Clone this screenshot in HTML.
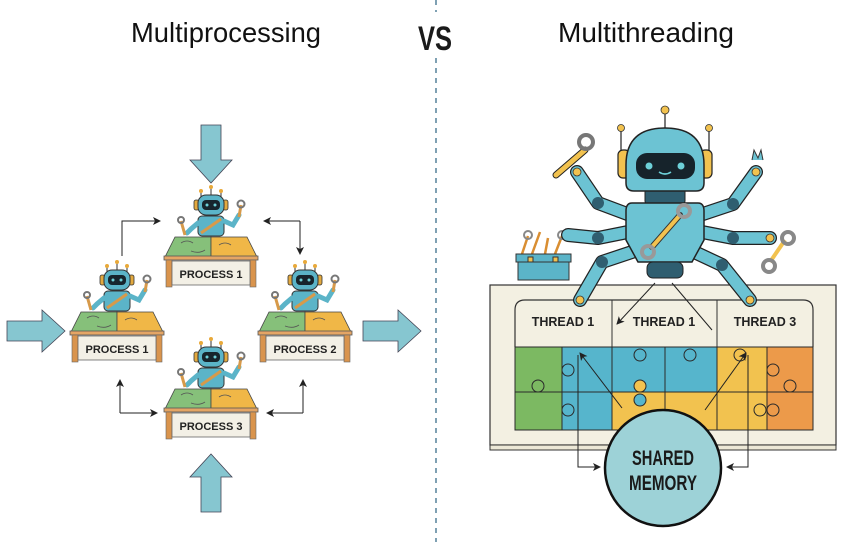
<!DOCTYPE html>
<html><head><meta charset="utf-8"><style>
html,body{margin:0;padding:0;background:#fff;}
svg{display:block;}
text{font-family:"Liberation Sans",sans-serif;}
</style></head><body>
<svg width="857" height="542" viewBox="0 0 857 542" xmlns="http://www.w3.org/2000/svg">
<defs>
<marker id="ah" markerWidth="8" markerHeight="8" refX="7" refY="4" orient="auto" markerUnits="userSpaceOnUse">
<path d="M0,0 L8,4 L0,8 L2,4 Z" fill="#222"/></marker>
<g id="desk">
  <!-- antennas -->
  <g stroke="#333" stroke-width="1">
    <line x1="-10" y1="-36" x2="-10" y2="-46"/><line x1="0" y1="-42" x2="0" y2="-50"/><line x1="10" y1="-36" x2="10" y2="-46"/>
  </g>
  <circle cx="-10" cy="-46" r="2" fill="#e8a93a"/><circle cx="0" cy="-50" r="2" fill="#e8a93a"/><circle cx="10" cy="-46" r="2" fill="#e8a93a"/>
  <rect x="-17" y="-37" width="5" height="10" rx="2" fill="#e3a93f" stroke="#333" stroke-width="0.8"/>
  <rect x="12" y="-37" width="5" height="10" rx="2" fill="#e3a93f" stroke="#333" stroke-width="0.8"/>
  <rect x="-13" y="-42" width="26" height="20" rx="8" fill="#5bb4c8" stroke="#333" stroke-width="1"/>
  <rect x="-9" y="-37" width="18" height="10" rx="4" fill="#17252d"/>
  <circle cx="-4" cy="-32" r="1.5" fill="#6dd0d8"/><circle cx="4" cy="-32" r="1.5" fill="#6dd0d8"/>
  <!-- body -->
  <rect x="-13" y="-21" width="26" height="20" rx="4" fill="#5bb4c8" stroke="#333" stroke-width="1"/>
  <line x1="-10" y1="-4" x2="10" y2="-18" stroke="#d79a4a" stroke-width="3"/>
  <!-- arms -->
  <path d="M13,-16 L22,-12 L28,-22" fill="none" stroke="#5bb4c8" stroke-width="5" stroke-linecap="round"/>
  <path d="M28,-20 L30,-32" stroke="#d79a4a" stroke-width="3"/>
  <circle cx="30" cy="-33" r="3.5" fill="none" stroke="#777" stroke-width="2"/>
  <path d="M-13,-14 L-20,-8 L-24,-4" fill="none" stroke="#5bb4c8" stroke-width="5" stroke-linecap="round"/>
  <path d="M-26,-2 L-30,-16" stroke="#d79a4a" stroke-width="3"/>
  <circle cx="-30" cy="-17" r="3" fill="none" stroke="#777" stroke-width="2"/>
  <!-- table top -->
  <polygon points="-36,0 0,0 0,20 -46,20" fill="#86c07a" stroke="#444" stroke-width="0.8"/>
  <polygon points="0,0 36,0 46,20 0,20" fill="#f0b747" stroke="#444" stroke-width="0.8"/>
  <path d="M-30,6 q6,-4 12,0 M8,8 q6,-4 12,0 M-20,14 q8,3 14,-1" fill="none" stroke="#555" stroke-width="0.8"/>
  <rect x="-47" y="19" width="94" height="4" fill="#e4a565" stroke="#555" stroke-width="0.8"/>
  <rect x="-45" y="23" width="6" height="27" fill="#d9944d" stroke="#666" stroke-width="0.6"/>
  <rect x="39" y="23" width="6" height="27" fill="#d9944d" stroke="#666" stroke-width="0.6"/>
  <rect x="-39" y="24" width="78" height="24" fill="#f3f0e6" stroke="#666" stroke-width="0.8"/>
</g>
<g id="bigarrow">
  <polygon points="-10,0 10,0 10,35 21,35 0,58 -21,35 -10,35" fill="#86c6d0" stroke="#445" stroke-width="0.8"/>
</g>
</defs>

<!-- titles -->
<text x="226" y="42" font-size="28" text-anchor="middle" textLength="190" lengthAdjust="spacingAndGlyphs" fill="#111">Multiprocessing</text>
<text x="646" y="42" font-size="28" text-anchor="middle" textLength="176" lengthAdjust="spacingAndGlyphs" fill="#111">Multithreading</text>
<text x="435" y="50" font-size="34" font-weight="bold" text-anchor="middle" textLength="34" lengthAdjust="spacingAndGlyphs" fill="#1a1a1a">VS</text>
<line x1="436" y1="0" x2="436" y2="12" stroke="#3a6e8a" stroke-width="1.3" stroke-dasharray="5,5"/>
<line x1="436" y1="58" x2="436" y2="542" stroke="#3a6e8a" stroke-width="1.3" stroke-dasharray="5,5"/>

<!-- big arrows left -->
<use href="#bigarrow" transform="translate(211,125)"/>
<use href="#bigarrow" transform="translate(211,512) rotate(180)"/>
<use href="#bigarrow" transform="translate(7,331) rotate(-90)"/>
<use href="#bigarrow" transform="translate(363,331) rotate(-90)"/>

<!-- desks -->
<use href="#desk" transform="translate(211,237)"/>
<use href="#desk" transform="translate(117,312)"/>
<use href="#desk" transform="translate(305,312)"/>
<use href="#desk" transform="translate(211,389)"/>
<g font-size="11" font-weight="bold" fill="#222" text-anchor="middle">
<text x="211" y="278">PROCESS 1</text>
<text x="117" y="353">PROCESS 1</text>
<text x="305" y="353">PROCESS 2</text>
<text x="211" y="430">PROCESS 3</text>
</g>

<!-- small connectors -->
<g fill="none" stroke="#222" stroke-width="1">
<path d="M122,256 V221 H160" marker-end="url(#ah)"/>
<path d="M300,221 H264" marker-end="url(#ah)"/>
<path d="M300,221 V254" marker-end="url(#ah)"/>
<path d="M120,413 V380" marker-end="url(#ah)"/>
<path d="M120,413 H157" marker-end="url(#ah)"/>
<path d="M303,413 V380" marker-end="url(#ah)"/>
<path d="M303,413 H267" marker-end="url(#ah)"/>
</g>

<!-- RIGHT: board -->
<rect x="490" y="285" width="346" height="160" fill="#f3f0e2" stroke="#333" stroke-width="1.2"/>
<rect x="490" y="445" width="346" height="5" fill="#ece8d6" stroke="#333" stroke-width="1"/>
<path d="M515,347 V310 q0,-10 10,-10 H803 q10,0 10,10 V347" fill="#f3f0e2" stroke="#333" stroke-width="1.2"/>
<line x1="612" y1="300" x2="612" y2="347" stroke="#333" stroke-width="1"/>
<line x1="717" y1="300" x2="717" y2="347" stroke="#333" stroke-width="1"/>
<!-- puzzle -->
<rect x="515" y="347" width="47" height="83" fill="#7cb962"/>
<rect x="562" y="347" width="155" height="45" fill="#56b5cc"/>
<rect x="562" y="392" width="50" height="38" fill="#56b5cc"/>
<rect x="612" y="392" width="155" height="38" fill="#f2c24f"/>
<rect x="717" y="347" width="50" height="45" fill="#f2c24f"/>
<rect x="767" y="347" width="46" height="83" fill="#ec9a4a"/>
<g fill="none" stroke="#2a2a2a" stroke-width="1">
<rect x="515" y="347" width="298" height="83"/>
<line x1="515" y1="392" x2="813" y2="392"/>
<line x1="562" y1="347" x2="562" y2="430"/>
<line x1="612" y1="347" x2="612" y2="430"/>
<line x1="665" y1="347" x2="665" y2="430"/>
<line x1="717" y1="347" x2="717" y2="430"/>
<line x1="767" y1="347" x2="767" y2="430"/>
</g>
<g fill="#56b5cc" stroke="#2a2a2a" stroke-width="1">
<circle cx="568" cy="370" r="6"/><circle cx="568" cy="410" r="6"/><circle cx="640" cy="355" r="6"/><circle cx="690" cy="355" r="6"/><circle cx="640" cy="400" r="6"/>
</g>
<g fill="#7cb962" stroke="#2a2a2a" stroke-width="1"><circle cx="538" cy="386" r="6"/></g>
<g fill="#f2c24f" stroke="#2a2a2a" stroke-width="1"><circle cx="640" cy="386" r="6"/><circle cx="740" cy="355" r="6"/><circle cx="760" cy="410" r="6"/></g>
<g fill="#ec9a4a" stroke="#2a2a2a" stroke-width="1"><circle cx="773" cy="370" r="6"/><circle cx="790" cy="386" r="6"/><circle cx="773" cy="410" r="6"/></g>
<g font-size="12.5" font-weight="bold" fill="#222" text-anchor="middle">
<text x="563" y="326">THREAD 1</text>
<text x="664" y="326">THREAD 1</text>
<text x="765" y="326">THREAD 3</text>
</g>

<!-- connectors right -->
<g fill="none" stroke="#222" stroke-width="1">
<path d="M655,283 L617,324" marker-end="url(#ah)"/>
<path d="M672,283 L712,330"/>
<path d="M622,408 L580,353" marker-end="url(#ah)"/>
<path d="M705,410 L746,353" marker-end="url(#ah)"/>
<path d="M578,355 V467 H600" marker-end="url(#ah)"/>
<path d="M748,355 V467 H727" marker-end="url(#ah)"/>
</g>

<!-- shared memory -->
<circle cx="663" cy="468" r="58" fill="#9dd2d7" stroke="#111" stroke-width="2.5"/>
<g font-size="21" font-weight="bold" fill="#1a1a1a" text-anchor="middle">
<text x="663" y="465" textLength="62" lengthAdjust="spacingAndGlyphs">SHARED</text>
<text x="663" y="490" textLength="68" lengthAdjust="spacingAndGlyphs">MEMORY</text>
</g>

<!-- toolbox -->
<g stroke="#333" stroke-width="1">
<path d="M522,254 L528,236 M532,254 L540,232 M545,254 L548,238 M555,254 L562,236" stroke="#d98e32" stroke-width="2.5"/>
<circle cx="528" cy="235" r="4" fill="none" stroke="#888" stroke-width="2"/>
<circle cx="562" cy="235" r="4" fill="none" stroke="#888" stroke-width="2"/>
<rect x="516" y="254" width="55" height="8" fill="#5bb4c8"/>
<rect x="518" y="262" width="51" height="18" fill="#5bb4c8"/>
<rect x="528" y="257" width="5" height="5" fill="#f2c24f"/>
<rect x="553" y="257" width="5" height="5" fill="#f2c24f"/>
</g>

<!-- robot arms -->
<g fill="none" stroke="#222" stroke-width="14" stroke-linecap="round" stroke-linejoin="round">
<path d="M630,215 L598,203 L577,172"/><path d="M700,215 L733,204 L756,172"/>
<path d="M628,232 L598,238 L568,235"/><path d="M702,232 L733,238 L770,238"/>
<path d="M638,250 L602,262 L580,300"/><path d="M690,250 L722,265 L750,300"/>
</g>
<g fill="none" stroke="#6cc3d3" stroke-width="11.5" stroke-linecap="round" stroke-linejoin="round">
<path d="M630,215 L598,203 L577,172"/><path d="M700,215 L733,204 L756,172"/>
<path d="M628,232 L598,238 L568,235"/><path d="M702,232 L733,238 L770,238"/>
<path d="M638,250 L602,262 L580,300"/><path d="M690,250 L722,265 L750,300"/>
</g>
<g fill="#2f5e70"><circle cx="598" cy="203" r="6"/><circle cx="733" cy="204" r="6"/><circle cx="598" cy="238" r="6"/><circle cx="733" cy="238" r="6"/><circle cx="602" cy="262" r="6"/><circle cx="722" cy="265" r="6"/></g>
<g fill="#f2c24f" stroke="#333" stroke-width="0.8"><circle cx="577" cy="172" r="4"/><circle cx="756" cy="172" r="4"/><circle cx="770" cy="238" r="4"/><circle cx="580" cy="300" r="4"/><circle cx="750" cy="300" r="4"/></g>
<!-- hand wrenches -->
<path d="M556,175 L585,150" stroke="#222" stroke-width="7" stroke-linecap="round"/>
<path d="M556,175 L585,150" stroke="#f2c24f" stroke-width="5" stroke-linecap="round"/>
<circle cx="586" cy="142" r="7" fill="none" stroke="#777" stroke-width="4"/>
<path d="M770,262 L785,240" stroke="#f2c24f" stroke-width="4"/>
<circle cx="788" cy="238" r="6" fill="none" stroke="#888" stroke-width="4"/>
<circle cx="769" cy="266" r="6" fill="none" stroke="#888" stroke-width="4"/>
<path d="M752,160 l2,-10 l4,8 l3,-8 l2,10" fill="#6cc3d3" stroke="#333" stroke-width="1"/>
<!-- antennas -->
<g stroke="#333" stroke-width="1.3">
<line x1="665" y1="112" x2="665" y2="128"/><line x1="621" y1="130" x2="621" y2="152"/><line x1="709" y1="130" x2="709" y2="152"/>
</g>
<g fill="#f2c24f" stroke="#333" stroke-width="0.8"><circle cx="665" cy="110" r="4"/><circle cx="621" cy="128" r="3.5"/><circle cx="709" cy="128" r="3.5"/></g>
<!-- neck -->
<rect x="645" y="188" width="40" height="16" rx="3" fill="#2f5e70" stroke="#222" stroke-width="1"/>
<!-- body -->
<path d="M632,203 H698 q6,0 6,8 V240 L692,262 H638 L626,240 V211 q0,-8 6,-8 Z" fill="#6cc3d3" stroke="#222" stroke-width="1.5"/>
<rect x="647" y="262" width="36" height="16" rx="6" fill="#2f5e70" stroke="#222" stroke-width="1"/>
<path d="M652,247 L680,215" stroke="#333" stroke-width="6" stroke-linecap="round"/>
<path d="M652,247 L680,215" stroke="#f2c24f" stroke-width="4"/>
<circle cx="684" cy="211" r="6" fill="none" stroke="#999" stroke-width="4"/>
<circle cx="648" cy="252" r="6" fill="none" stroke="#999" stroke-width="4"/>
<!-- ears & head -->
<rect x="618" y="150" width="12" height="28" rx="5" fill="#f2c24f" stroke="#222" stroke-width="1.2"/>
<rect x="700" y="150" width="12" height="28" rx="5" fill="#f2c24f" stroke="#222" stroke-width="1.2"/>
<path d="M626,165 Q626,128 665,128 Q704,128 704,165 V183 q0,8 -8,8 H634 q-8,0 -8,-8 Z" fill="#6cc3d3" stroke="#222" stroke-width="1.5"/>
<rect x="636" y="153" width="59" height="26" rx="11" fill="#16232b"/>
<circle cx="649" cy="166" r="3.5" fill="#6dd0d8"/><circle cx="681" cy="166" r="3.5" fill="#6dd0d8"/>
<path d="M659,172 q6,4 12,0" fill="none" stroke="#6dd0d8" stroke-width="1.6"/>
</svg>
</body></html>
